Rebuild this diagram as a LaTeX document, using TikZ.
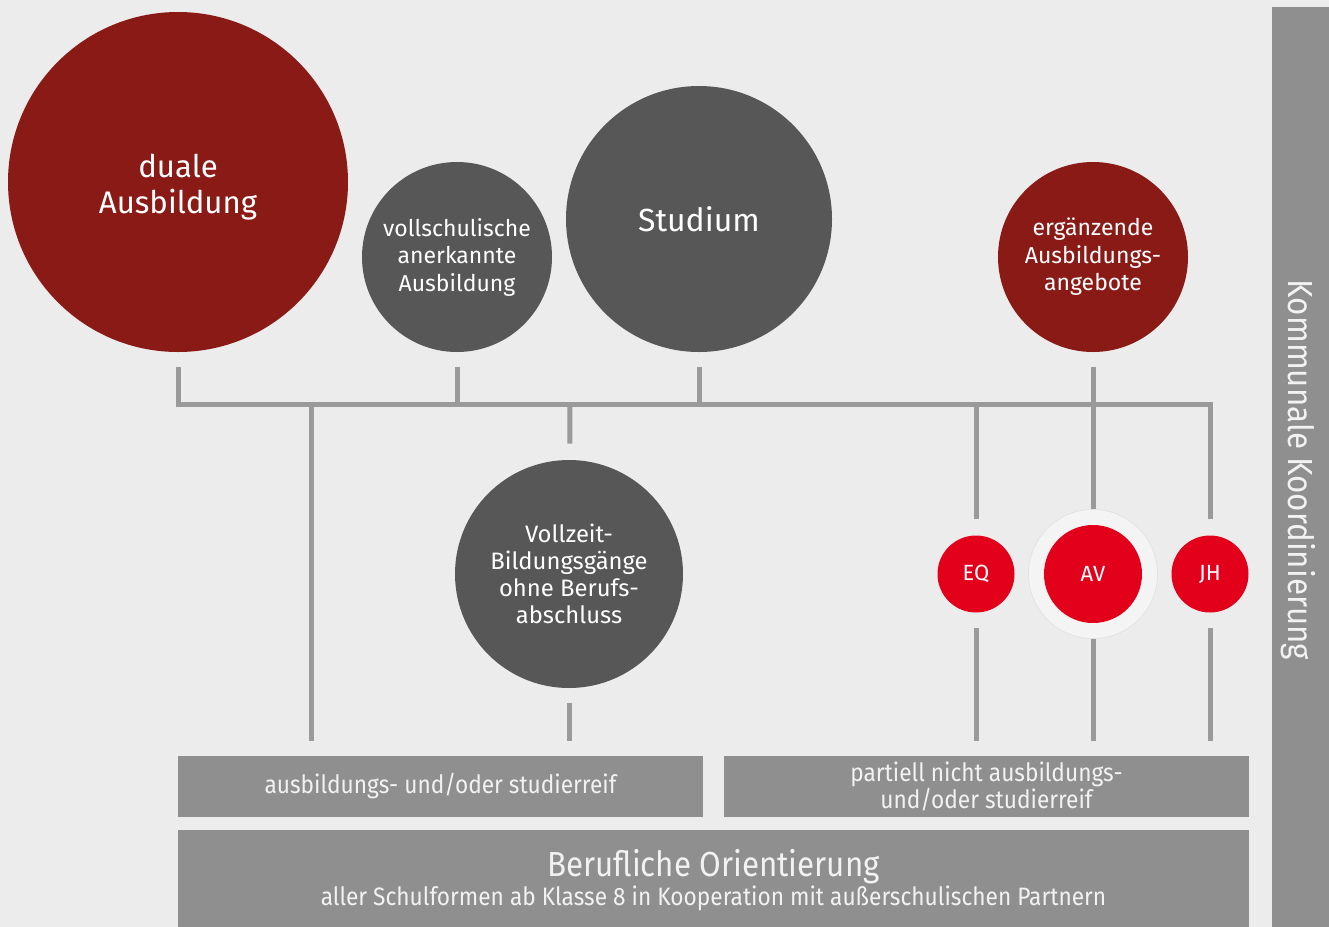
\documentclass[tikz,border=0pt]{standalone}
\usepackage{fontspec}
\setmainfont{Fira Sans}
\newfontfamily\condfont{Fira Sans}[FakeStretch=0.9]
\usetikzlibrary{positioning}
\definecolor{bgray}{HTML}{ECECEC}
\definecolor{dred}{HTML}{8A1A16}
\definecolor{dgray}{HTML}{575757}
\definecolor{bred}{HTML}{E2001A}
\definecolor{lgray}{HTML}{9A9A9A}
\definecolor{boxgray}{HTML}{8F8F8F}

\begin{document}
\begin{tikzpicture}[x=0.5pt, y=-0.5pt,
	bubble/.style={circle, inner sep=0pt, text=white, align=center},
	conn/.style={draw=lgray, line width=2.5pt},
	level/.style={fill=boxgray, text=white!95!black, inner sep=0pt, align=center, font=\condfont\fontsize{12.6}{13.5}\selectfont}]
\fill[bgray] (0,0) rectangle (1329,927);
\useasboundingbox (0,0) rectangle (1329,927);
% obere Kreise
\node[bubble, fill=dred, minimum size=170pt, label={[yshift=-2.5pt, text=white, align=center, font=\fontsize{15.6}{18}\selectfont]center:duale\\Ausbildung}] (duale) at (178,182) {};
\node[bubble, fill=dgray, minimum size=95pt, font=\fontsize{11.5}{13.75}\selectfont] (voll) at (457,257) {vollschulische\\anerkannte\\Ausbildung};
\node[bubble, fill=dgray, minimum size=133pt, font=\fontsize{16}{20}\selectfont] (stud) at (699,219) {Studium};
\node[bubble, fill=dred, minimum size=95pt, font=\fontsize{11.5}{13.75}\selectfont] (erg) at (1093,257) {ergänzende\\Ausbildungs-\\angebote};
% mittlere Reihe
\node[bubble, fill=dgray, minimum size=114pt, font=\fontsize{11.9}{13.6}\selectfont] (vollz) at (569,574) {Vollzeit-\\Bildungsgänge\\ohne Berufs-\\abschluss};
\node[bubble, fill=bgray!60!white, draw=black!12, line width=0.3pt, minimum size=64.5pt] (avring) at (1093,574) {};
\node[bubble, fill=bred, minimum size=49pt, font=\fontsize{11}{13}\selectfont] (AV) at (1093,574) {AV};
\node[bubble, fill=bred, minimum size=38.5pt, font=\fontsize{11}{13}\selectfont] (EQ) at (976,574) {EQ};
\node[bubble, fill=bred, minimum size=38.5pt, font=\fontsize{11}{13}\selectfont] (JH) at (1210,574) {JH};
% Ebenen
\node[level, minimum width=262.5pt, minimum height=30.5pt] (reif) at (440.5,786.5) {ausbildungs- und/oder studierreif};
\node[level, minimum width=262.5pt, minimum height=30.5pt] (nreif) at (986.5,786.5) {partiell nicht ausbildungs-\\und/oder studierreif};
\node[level, minimum width=535.5pt, minimum height=50pt] (bo) at (713.5,880) {{\fontsize{17.4}{17}\selectfont Berufliche Orientierung}\\aller Schulformen ab Klasse 8 in Kooperation mit außerschulischen Partnern};
\node[level, minimum width=28.5pt, minimum height=460pt] (komm) at (1300.5,467) {};
\node[rotate=-90, text=white!95!black, font=\condfont\fontsize{17.4}{20}\selectfont] (kommtext) at (1298,470) {Kommunale Koordinierung};
% Verbindungen
\coordinate (busR) at (1210,404);
\coordinate (busA) at (311,404);
\coordinate (busB) at (570,404);
\draw[conn, shorten <=7.5pt, shorten >=8pt] (duale) |- (busR) -- (JH);
\draw[conn, shorten <=7.5pt] (voll) -- (voll |- busR);
\draw[conn, shorten <=7.5pt] (stud) -- (stud |- busR);
\draw[conn, shorten <=7.5pt] (erg) -- (avring);
\draw[conn, shorten >=8pt] (EQ |- busR) -- (EQ);
\draw[conn, shorten >=7.5pt] (busA) -- (busA |- reif.north);
\draw[conn, shorten >=8pt] (busB) -- (vollz);
\draw[conn, shorten <=7.5pt, shorten >=7.5pt] (vollz) -- (vollz |- reif.north);
\draw[conn, shorten <=7.5pt, shorten >=7.5pt] (EQ) -- (EQ |- nreif.north);
\draw[conn, shorten >=7.5pt] (avring) -- (avring |- nreif.north);
\draw[conn, shorten <=7.5pt, shorten >=7.5pt] (JH) -- (JH |- nreif.north);
\end{tikzpicture}
\end{document}
